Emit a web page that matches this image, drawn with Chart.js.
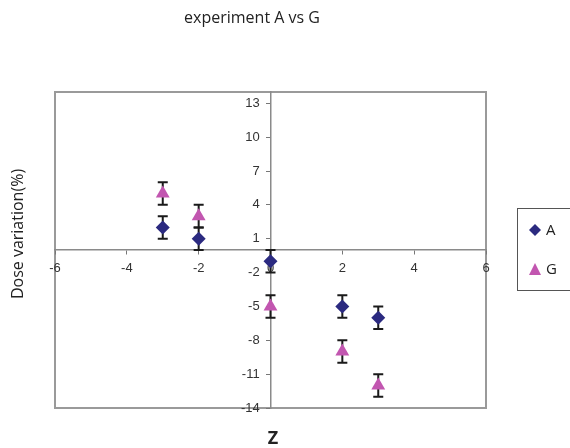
<!DOCTYPE html>
<html lang="en">
<head>
    <meta charset="UTF-8">
    <title>experiment A vs G</title>
    <script src="https://cdn.jsdelivr.net/npm/chart.js"></script>
    <style>
        body {
            margin: 0;
            padding: 0;
            background: #fff;
        }
        #wrap {
            width: 570px;
            height: 448px;
        }
    </style>
</head>
<body>
    <div id="wrap">
        <canvas id="chart" width="570" height="448"></canvas>
    </div>

    <script>
        // Data
        const xValues = [-3, -2, 0, 2, 3];
        const seriesA = [2, 1, -1, -5, -6];
        const seriesG = [5, 3, -5, -9, -12];
        const errA = [1, 1, 1, 1, 1];
        const errG = [1, 1, 1, 1, 1];
        const xTicks = [-6, -4, -2, 0, 2, 4, 6];
        const yTicks = [-14, -11, -8, -5, -2, 1, 4, 7, 10, 13];

        const colorA = '#2b2a80';
        const colorG = '#c256b0';
        const labelFont = 'Liberation Sans, Arial, sans-serif';
        const textFont = '"Open Sans", "Noto Sans", sans-serif';

        const toPoints = (ys, errs) => ys.map((y, i) => ({ x: xValues[i], y: y, err: errs[i] }));

        // Error bars, drawn under the markers
        const errorBars = {
            id: 'errorBars',
            beforeDatasetsDraw(chart) {
                const ctx = chart.ctx;
                const xs = chart.scales.x, ys = chart.scales.y;
                ctx.save();
                ctx.strokeStyle = '#1a1a1a';
                ctx.lineWidth = 2;
                chart.data.datasets.forEach(ds => {
                    ds.data.forEach(p => {
                        const px = xs.getPixelForValue(p.x);
                        const top = ys.getPixelForValue(p.y + p.err);
                        const bot = ys.getPixelForValue(p.y - p.err);
                        ctx.beginPath();
                        ctx.moveTo(px, top); ctx.lineTo(px, bot);
                        ctx.moveTo(px - 5, top); ctx.lineTo(px + 5, top);
                        ctx.moveTo(px - 5, bot); ctx.lineTo(px + 5, bot);
                        ctx.stroke();
                    });
                });
                ctx.restore();
            }
        };

        // Frame, titles and legend
        const decorations = {
            id: 'decorations',
            beforeDraw(chart) {
                const ctx = chart.ctx;
                const a = chart.chartArea;
                ctx.save();
                ctx.strokeStyle = '#9a9a9a';
                ctx.lineWidth = 2;
                ctx.strokeRect(a.left, a.top, a.right - a.left, a.bottom - a.top);
                ctx.restore();
            },
            afterDraw(chart) {
                const ctx = chart.ctx;
                ctx.save();
                ctx.fillStyle = '#222';
                ctx.textAlign = 'center';
                ctx.textBaseline = 'middle';
                ctx.font = '16px ' + textFont;
                ctx.fillText('experiment A vs G', 252, 18);

                ctx.font = 'bold 18px ' + textFont;
                ctx.fillText('Z', 273, 439);

                ctx.translate(18, 234);
                ctx.rotate(-Math.PI / 2);
                ctx.font = '16px ' + textFont;
                ctx.fillText('Dose variation(%)', 0, 0);
                ctx.restore();

                // legend box
                ctx.save();
                ctx.strokeStyle = '#555';
                ctx.lineWidth = 1;
                ctx.strokeRect(517.5, 208.5, 70, 82);
                ctx.fillStyle = colorA;
                ctx.beginPath();
                ctx.moveTo(535, 224); ctx.lineTo(541, 230); ctx.lineTo(535, 236); ctx.lineTo(529, 230);
                ctx.closePath(); ctx.fill();
                ctx.fillStyle = colorG;
                ctx.beginPath();
                ctx.moveTo(535, 263); ctx.lineTo(541, 275); ctx.lineTo(529, 275);
                ctx.closePath(); ctx.fill();
                ctx.fillStyle = '#222';
                ctx.font = '15px ' + textFont;
                ctx.textBaseline = 'middle';
                ctx.fillText('A', 546, 231);
                ctx.fillText('G', 546, 270);
                ctx.restore();
            }
        };

        const ctx = document.getElementById('chart').getContext('2d');
        new Chart(ctx, {
            type: 'scatter',
            data: {
                datasets: [{
                    label: 'A',
                    data: toPoints(seriesA, errA),
                    pointStyle: 'rectRot',
                    pointRadius: 7,
                    backgroundColor: colorA,
                    borderColor: colorA,
                    borderWidth: 0
                }, {
                    label: 'G',
                    data: toPoints(seriesG, errG),
                    pointStyle: 'triangle',
                    pointRadius: 8,
                    backgroundColor: colorG,
                    borderColor: colorG,
                    borderWidth: 0
                }]
            },
            options: {
                responsive: false,
                animation: false,
                layout: { padding: { left: 55, right: 84, top: 92, bottom: 40 } },
                plugins: {
                    legend: { display: false },
                    title: { display: false },
                    tooltip: { enabled: false }
                },
                scales: {
                    x: {
                        type: 'linear',
                        position: { y: 0 },
                        min: -6,
                        max: 6,
                        afterBuildTicks: s => { s.ticks = xTicks.map(v => ({ value: v })); },
                        ticks: { color: '#333', font: { family: labelFont, size: 13 }, padding: 7, maxRotation: 0 },
                        grid: { drawOnChartArea: false, tickLength: 4, color: '#777' },
                        border: { color: '#8a8a8a', width: 1.5 }
                    },
                    y: {
                        type: 'linear',
                        position: { x: 0 },
                        min: -14,
                        max: 14,
                        afterBuildTicks: s => { s.ticks = yTicks.map(v => ({ value: v })); },
                        // labels sit right-aligned on the axis line, so pad with spaces
                        ticks: { color: '#333', font: { family: labelFont, size: 13 }, callback: v => v + '   ' },
                        grid: { drawOnChartArea: false, tickLength: 4, color: '#777' },
                        border: { color: '#8a8a8a', width: 1.5 }
                    }
                }
            },
            plugins: [errorBars, decorations]
        });
    </script>
</body>
</html>
